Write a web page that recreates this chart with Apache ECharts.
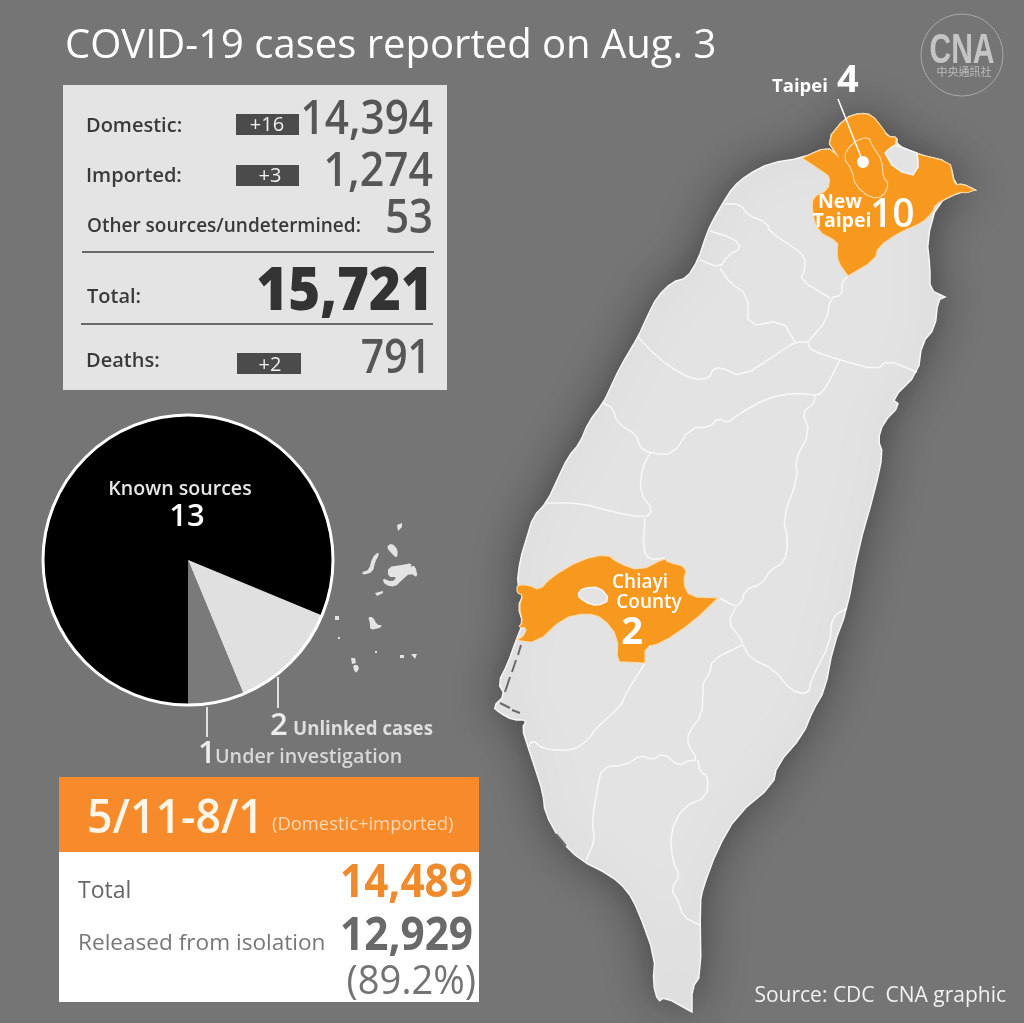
<!DOCTYPE html>
<html lang="en">
<head>
<meta charset="UTF-8">
<title>COVID-19 cases reported on Aug. 3</title>
<script src="https://cdn.jsdelivr.net/npm/echarts@6/dist/echarts.min.js"></script>
<style>
  html, body { margin: 0; padding: 0; background: #757575; }
  #main { width: 1024px; height: 1023px; }
</style>
</head>
<body>
<div id="main"></div>
<script type="text/javascript">
// numbers
const titleText = 'COVID-19 cases reported on Aug. 3';
const summaryLabels = ['Domestic:', 'Imported:', 'Other sources/undetermined:', 'Total:', 'Deaths:'];
const summaryDeltas = ['+16', '+3', '', '', '+2'];
const summaryValues = ['14,394', '1,274', '53', '15,721', '791'];

const sourceNames = ['Known sources', 'Unlinked cases', 'Under investigation'];
const sourceValues = [13, 2, 1];
const sourceColors = ['#000000', '#e0e0e0', '#7a7a7a'];

const cityNames = ['New Taipei', 'Taipei', 'Chiayi County'];
const cityCases = [10, 4, 2];

const periodLabel = '5/11-8/1';
const periodNote = '(Domestic+imported)';
const periodTotal = '14,489';
const periodReleased = '12,929';
const periodShare = '(89.2%)';

// map outlines, traced by hand in page pixels (a repeated point keeps a sharp tip)
const taiwanOutline = [[802,158],[770,163],[747,175],[733,187],[723,203],[713,220],[707,233],[698,260],[687,278],[672,282],[657,297],[647,317],[638,337],[620,367],[608,393],[603,403],[588,423],[580,443],[568,457],[558,478],[547,502],[533,517],[527,537],[520,560],[517,585],[523,595],[518,607],[523,623],[515,643],[508,663],[498,683],[505,695],[493,707],[500,713],[513,720],[527,720],[522,728],[528,747],[535,768],[543,793],[545,813],[560,840],[580,860],[610,875],[627,890],[638,910],[655,957],[653,983],[658,1002],[665,997],[692,1012],[692,1012],[692,988],[701,975],[700,903],[703,888],[717,850],[737,815],[773,785],[777,765],[803,735],[813,710],[825,690],[833,647],[847,610],[858,550],[875,490],[883,453],[878,440],[883,423],[900,405],[892,399],[918,373],[922,343],[935,328],[938,300],[945,297],[945,297],[930,290],[930,267],[927,240],[937,203],[960,192],[975,190],[975,190],[963,184],[955,185],[950,162],[917,154],[897,145],[897,137],[888,137],[872,115],[860,113],[845,118],[827,140],[837,155],[827,147]];
const newTaipeiOutline = [[802,158],[802,158],[827,147],[837,155],[837,155],[827,140],[845,118],[860,113],[872,115],[882,127],[888,137],[897,137],[895,146],[917,154],[950,162],[952,173],[955,185],[963,184],[975,190],[975,190],[967,193],[960,192],[947,198],[935,205],[933,212],[922,223],[900,232],[878,247],[875,260],[848,276],[848,276],[838,262],[837,250],[838,242],[817,231],[812,210],[813,197],[828,190],[830,177],[823,172]];
const keelungOutline = [[885,153],[889,149],[895,145],[906,149],[917,153],[918,160],[918,167],[913,175],[902,172],[892,165]];
const taipeiOutline = [[843,157],[852,143],[868,136],[873,147],[882,160],[883,177],[889,184],[883,197],[870,198],[855,185],[852,170]];
const chiayiOutline = [[517,585],[528,585],[540,590],[550,578],[580,560],[607,554],[618,563],[640,571],[665,558],[667,562],[687,567],[683,583],[690,597],[718,598],[718,598],[693,622],[662,643],[645,647],[645,663],[645,663],[627,662],[617,662],[618,637],[603,618],[587,613],[563,618],[537,643],[515,640],[523,637],[527,628],[518,627],[523,623],[519,607],[523,595],[517,593]];
const chiayiCityOutline = [[577,595],[583,588],[600,587],[610,600],[597,606],[585,602]];
const countyBorders = [
  [[725,204],[740,204],[748,215],[767,223],[770,232],[793,247],[805,257],[805,270],[800,280],[830,298]],
  [[848,276],[842,282],[842,295],[830,298],[827,320],[808,342]],
  [[710,231],[733,238],[742,248],[728,255],[720,268],[700,260]],
  [[720,268],[730,283],[748,295],[748,327],[782,320],[795,342]],
  [[808,342],[795,342],[780,352],[742,377],[720,367],[712,370],[710,378],[693,380],[667,365],[650,350],[638,337]],
  [[808,342],[810,350],[840,360],[877,370],[887,360],[917,372]],
  [[840,360],[823,393],[815,395]],
  [[603,403],[613,408],[617,423],[637,435],[640,448],[650,453],[673,455],[690,428],[710,427],[718,418],[728,423],[737,415],[767,398],[795,393],[815,395]],
  [[815,395],[814,404],[802,412],[810,432],[795,460],[798,477],[783,518],[788,540],[785,562],[770,570],[763,583],[745,590],[742,602],[736,607],[720,598]],
  [[650,453],[642,468],[640,493],[653,510],[645,518],[613,512],[580,503],[547,503]],
  [[645,518],[643,550],[650,560],[665,558]],
  [[736,607],[728,623],[740,637],[743,645],[750,658],[775,670],[790,690],[808,695],[812,678],[830,643],[832,617],[847,608]],
  [[742,645],[712,660],[710,673],[703,683],[703,690],[702,715],[688,733],[688,745],[698,760],[687,761],[679,766],[663,753],[653,760],[640,755],[627,765],[602,767],[597,790],[592,823],[595,840],[586,860]],
  [[645,663],[628,690],[620,707],[597,727],[588,740],[572,751],[543,749],[533,740],[528,747]],
  [[698,760],[700,772],[708,776],[707,797],[683,807],[670,833],[673,863],[680,875],[671,890],[678,900],[683,917],[700,925]]
];
// thin channels behind the sandbars on the southwest coast
const coastChannels = [
  [[521,645],[518,655]], [[516,660],[512,672]], [[510,677],[505,692]],
  [[500,703],[510,708]], [[512,710],[520,713]],
  [[556,834],[566,846]]
];
const penghuIslands = [
  [[397,525],[402,523],[402,527],[398,531]],
  [[386,547],[392,543],[398,550],[397,558],[393,555]],
  [[362,572],[369,570],[372,558],[378,552],[379,555],[375,562],[373,572],[363,575]],
  [[388,567],[402,565],[412,563],[410,568],[415,565],[418,578],[410,573],[402,580],[395,587],[385,585],[382,578],[392,582],[397,577],[388,577]],
  [[375,593],[383,591],[383,593],[377,596]],
  [[368,617],[373,617],[377,625],[383,625],[380,628],[370,630],[370,623]],
  [[335,616],[339,616],[339,620],[335,620]],
  [[338,637],[340,637],[340,639],[338,639]],
  [[351,658],[355,658],[356,663],[352,664]],
  [[353,665],[358,665],[359,669],[356,673],[354,671]],
  [[400,655],[404,655],[404,658],[400,658]],
  [[411,654],[417,654],[415,659]],
  [[375,651],[377,651],[377,653],[375,653]]
];

// one pass of corner cutting so the coast is not angular
function soften(points, closed) {
  const out = [];
  const n = points.length;
  if (!closed) out.push(points[0]);
  for (let i = 0; i < (closed ? n : n - 1); i++) {
    const a = points[i], b = points[(i + 1) % n];
    out.push([a[0] * 0.75 + b[0] * 0.25, a[1] * 0.75 + b[1] * 0.25]);
    out.push([a[0] * 0.25 + b[0] * 0.75, a[1] * 0.25 + b[1] * 0.75]);
  }
  if (!closed) out.push(points[n - 1]);
  return out;
}
function ring(points) {
  const r = soften(points, true);
  r.push(r[0]);
  return r;
}
function plainRing(points) {
  return points.concat([points[0]]);
}
function feature(name, type, coordinates) {
  return { type: 'Feature', properties: { name: name }, geometry: { type: type, coordinates: coordinates } };
}
const taiwanMap = {
  type: 'FeatureCollection',
  features: [
    feature('Taiwan', 'Polygon', [ring(taiwanOutline)]),
    feature('Penghu', 'MultiPolygon', penghuIslands.map(p => [p.length > 4 ? ring(p) : plainRing(p)])),
    feature('Borders', 'MultiLineString', countyBorders.map(l => soften(l, false))),
    feature('New Taipei', 'Polygon', [ring(newTaipeiOutline)]),
    feature('Keelung', 'Polygon', [plainRing(keelungOutline)]),
    feature('Taipei', 'Polygon', [ring(taipeiOutline)]),
    feature('Chiayi County', 'Polygon', [ring(chiayiOutline)]),
    feature('Chiayi City', 'Polygon', [ring(chiayiCityOutline)]),
    feature('Channels', 'MultiLineString', coastChannels)
  ]
};
echarts.registerMap('taiwan', taiwanMap);

const land = '#e3e3e3';
const orange = '#f7981f';
const landStyle = { areaColor: land, borderColor: '#f6f6f6', borderWidth: 1.5 };
const cityStyle = { areaColor: orange, borderColor: '#fbd9a6', borderWidth: 1.2 };
const mapData = [
  { name: 'Taiwan', itemStyle: { areaColor: land, borderColor: '#f6f6f6', borderWidth: 1.5, shadowBlur: 45, shadowColor: 'rgba(0,0,0,0.4)' } },
  { name: 'Penghu', itemStyle: { areaColor: land, borderWidth: 0 } },
  { name: 'Borders', itemStyle: { areaColor: 'transparent', borderColor: '#f8f8f8', borderWidth: 1.5 } },
  { name: 'Keelung', itemStyle: landStyle },
  { name: 'Chiayi City', itemStyle: landStyle },
  { name: 'Channels', itemStyle: { areaColor: 'transparent', borderColor: '#6a6a6a', borderWidth: 2 } }
].concat(cityNames.map((name, i) => ({ name: name, value: cityCases[i], itemStyle: cityStyle })));

const font = '"Open Sans", "Noto Sans", sans-serif';
// y is the text baseline, squeeze narrows the glyphs around x
function txt(x, y, text, size, color, weight, align, squeeze, family) {
  const baseY = y - size * 0.29;
  return {
    type: 'text', z: 10, silent: true,
    x: x, y: baseY, scaleX: squeeze || 1,
    style: {
      x: 0, y: 0, text: String(text), fill: color,
      font: (weight || 400) + ' ' + size + 'px ' + (family || font),
      align: align || 'left', verticalAlign: 'middle'
    }
  };
}
function box(x, y, w, h, fill) {
  return { type: 'rect', z: 10, silent: true, shape: { x: x, y: y, width: w, height: h }, style: { fill: fill } };
}
function rule(x1, y1, x2, y2, color, width) {
  return { type: 'line', z: 10, silent: true, shape: { x1: x1, y1: y1, x2: x2, y2: y2 }, style: { stroke: color, lineWidth: width } };
}

const dark = '#3a3a3a';
const tagColor = '#4b4b4b';
const valueColor = '#565656';
const graphics = [
  txt(65, 58, titleText, 40, '#ffffff', 400),

  // summary panel
  box(63, 85, 384, 305, '#e4e4e4'),
  txt(86, 132, summaryLabels[0], 20, dark, 600),
  box(236, 114, 63, 21, tagColor),
  txt(267, 131, summaryDeltas[0], 20, '#f0f0f0', 400, 'center'),
  txt(433, 134, summaryValues[0], 47, valueColor, 600, 'right', 0.9),
  txt(86, 182, summaryLabels[1], 20, dark, 600),
  box(236, 165, 63, 21, tagColor),
  txt(270, 182, summaryDeltas[1], 20, '#f0f0f0', 400, 'center'),
  txt(433, 186, summaryValues[1], 47, valueColor, 600, 'right', 0.91),
  txt(87, 232, summaryLabels[2], 19, dark, 600),
  txt(433, 233, summaryValues[2], 47, valueColor, 600, 'right', 0.89),
  rule(82, 252, 434, 252, '#6a6a6a', 2),
  txt(87, 303, summaryLabels[3], 20, dark, 600),
  txt(433, 310, summaryValues[3], 60, '#333333', 800, 'right', 0.91),
  rule(81, 324, 433, 324, '#6a6a6a', 2),
  txt(86, 367, summaryLabels[4], 20, dark, 600),
  box(237, 353, 64, 21, tagColor),
  txt(270, 371, summaryDeltas[4], 20, '#f0f0f0', 400, 'center'),
  txt(431, 373, summaryValues[4], 47, valueColor, 600, 'right', 0.87),

  // pie ring and labels
  { type: 'circle', z: 10, silent: true, shape: { cx: 188, cy: 560, r: 145 }, style: { fill: 'none', stroke: '#ffffff', lineWidth: 3 } },
  txt(180, 495, sourceNames[0], 19.6, '#e6e6e6', 600, 'center'),
  txt(187, 526, sourceValues[0], 31, '#ffffff', 600, 'center'),
  rule(278, 677, 278, 708, '#e0e0e0', 2),
  rule(207, 707, 207, 737, '#e0e0e0', 2),
  txt(270, 735, sourceValues[1], 31, '#ececec', 600),
  txt(293, 735, sourceNames[1], 18.7, '#dedede', 700),
  txt(198, 763, sourceValues[2], 31, '#ececec', 600),
  txt(215, 763, sourceNames[2], 19.7, '#d8d8d8', 600),

  // period panel
  box(59, 777, 420, 225, '#ffffff'),
  box(59, 777, 420, 75, '#f78a2b'),
  txt(87, 833, periodLabel, 47, '#fff6ea', 600, 'left', 0.95),
  txt(272, 830, periodNote, 18.4, '#fbd9b4', 400),
  txt(78, 898, 'Total', 23, '#666666', 400),
  txt(473, 897, periodTotal, 46, '#ef8a2d', 700, 'right', 0.92),
  txt(78, 950, 'Released from isolation', 22.6, '#777777', 400),
  txt(473, 950, periodReleased, 47, '#696969', 700, 'right', 0.9),
  txt(476, 994, periodShare, 41, '#737373', 400, 'right', 0.93),

  // map labels
  rule(838, 99, 863, 162, '#ffffff', 1.5),
  { type: 'circle', z: 10, silent: true, shape: { cx: 863, cy: 162, r: 6 }, style: { fill: '#ffffff' } },
  txt(772, 92, cityNames[1], 18.5, '#ffffff', 700),
  txt(837, 92, cityCases[1], 38, '#ffffff', 700),
  txt(840, 208, 'New', 19.5, '#ffffff', 700, 'center'),
  txt(842, 227, 'Taipei', 19.5, '#ffffff', 700, 'center'),
  txt(870, 227, cityCases[0], 39, '#ffffff', 600),
  txt(640, 588, 'Chiayi', 19, '#ffffff', 600, 'center'),
  txt(649, 608, 'County', 19, '#ffffff', 600, 'center'),
  txt(632, 644, cityCases[2], 38, '#ffffff', 700, 'center'),
  txt(1006, 1002, 'Source: CDC  CNA graphic', 21, '#f2f2f2', 400, 'right'),

  // agency mark
  { type: 'circle', z: 10, silent: true, shape: { cx: 962, cy: 55, r: 41 }, style: { fill: 'none', stroke: '#a8a8a8', lineWidth: 1 } },
  txt(962, 64, 'CNA', 43, '#c4c4c4', 800, 'center', 0.7, '"Liberation Sans", sans-serif'),
  txt(964, 75, '中央通訊社', 11, '#bdbdbd', 400, 'center', 1, '"Noto Sans CJK TC", sans-serif')
];

const myChart = echarts.init(document.getElementById('main'), null, { renderer: 'canvas' });
myChart.setOption({
  animation: false,
  backgroundColor: '#757575',
  graphic: { elements: graphics },
  series: [
    {
      type: 'map',
      map: 'taiwan',
      silent: true,
      roam: false,
      projection: { project: p => p, unproject: p => p },
      boundingCoords: [[0, 0], [1024, 1023]],
      layoutCenter: ['50%', '50%'],
      layoutSize: 1024,
      label: { show: false },
      emphasis: { disabled: true },
      itemStyle: { areaColor: land, borderColor: '#f6f6f6' },
      data: mapData
    },
    {
      type: 'pie',
      silent: true,
      center: [188, 560],
      radius: [0, 145],
      startAngle: -90,
      clockwise: true,
      label: { show: false },
      labelLine: { show: false },
      data: sourceNames.map((name, i) => ({ name: name, value: sourceValues[i], itemStyle: { color: sourceColors[i] } }))
    }
  ]
});
</script>
</body>
</html>
